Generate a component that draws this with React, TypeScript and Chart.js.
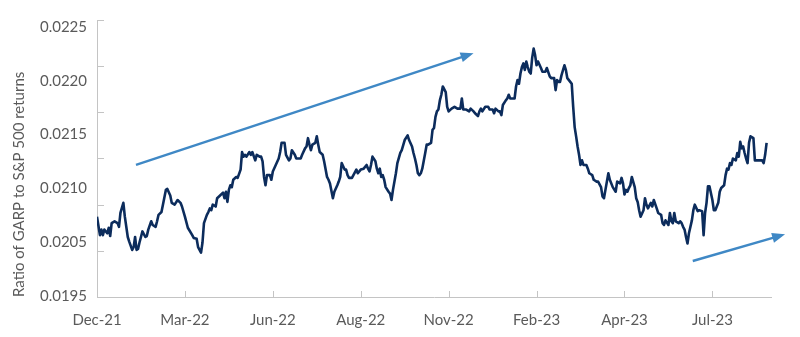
import React, { useEffect, useRef } from 'react';
import { Chart, registerables } from 'chart.js';

Chart.register(...registerables);

// ---- Data ----
const xTickLabels = ['Dec-21', 'Mar-22', 'Jun-22', 'Aug-22', 'Nov-22', 'Feb-23', 'Apr-23', 'Jul-23'];
const xTickStep = 60; // trading days between labelled ticks
const xMaxDay = 460;

const yMin = 0.0195;
const yMax = 0.0225;
const yTickValues = [0.0195, 0.02, 0.0205, 0.021, 0.0215, 0.022, 0.0225];
// printed labels (as they appear on the original picture)
const yTickLabels = ['0.0195', '0.0205', '0.0210', '0.0215', '0.0220', '0.0225'];

const yAxisTitle = 'Ratio of GARP to S&P 500 returns';

// trading-day index
const dayIndex = [
  0, 2, 3, 4, 5, 7, 8, 9, 10, 12, 14, 15, 16, 18, 19, 21, 22, 24, 25, 26, 27, 28, 29, 30, 31, 33, 34, 35, 37, 38,
  40, 41, 42, 44, 45, 47, 48, 50, 51, 53, 55, 57, 58, 60, 62, 65, 66, 68, 69, 71, 72, 73, 75, 76, 77, 78, 79, 81, 82, 84,
  86, 87, 88, 89, 90, 91, 92, 93, 95, 96, 98, 99, 100, 101, 102, 104, 105, 106, 108, 109, 111, 112, 113, 114, 115, 116, 118, 119, 120, 122,
  124, 125, 126, 127, 128, 129, 131, 132, 133, 135, 136, 137, 139, 140, 142, 143, 144, 145, 146, 147, 149, 150, 151, 152, 154, 155, 157, 158, 159, 161,
  162, 164, 165, 166, 167, 169, 170, 171, 172, 174, 175, 177, 178, 180, 182, 184, 185, 186, 187, 188, 190, 191, 192, 193, 194, 195, 196, 197, 199, 200,
  201, 202, 204, 205, 207, 208, 210, 212, 213, 215, 216, 217, 218, 219, 220, 221, 222, 224, 225, 226, 228, 229, 230, 231, 232, 233, 234, 235, 236, 238,
  239, 240, 242, 244, 246, 248, 249, 250, 252, 254, 255, 257, 258, 260, 261, 262, 263, 265, 267, 268, 270, 271, 272, 274, 275, 276, 277, 279, 280, 281,
  282, 284, 285, 286, 287, 288, 289, 290, 291, 292, 293, 294, 295, 296, 297, 298, 299, 300, 301, 303, 304, 306, 307, 309, 310, 312, 313, 314, 315, 316,
  317, 319, 320, 321, 323, 324, 325, 326, 327, 328, 329, 330, 331, 332, 334, 335, 336, 338, 339, 341, 342, 344, 345, 346, 347, 349, 350, 352, 354, 355,
  357, 358, 359, 360, 361, 362, 363, 364, 365, 367, 368, 369, 370, 371, 373, 374, 375, 376, 378, 379, 380, 382, 383, 385, 386, 387, 388, 390, 391, 392,
  393, 394, 395, 397, 398, 399, 400, 401, 402, 403, 404, 406, 407, 408, 410, 411, 413, 414, 415, 416, 417, 418, 420, 421, 422, 424, 425, 426, 428, 429,
  430, 431, 432, 433, 434, 436, 437, 438, 439, 440, 441, 442, 443, 444, 445, 446, 448, 449, 451, 453, 454, 455, 456, 457,
];

// ratio of GARP to S&P 500 returns
const ratio = [
  0.02037, 0.02017, 0.02023, 0.02017, 0.02023, 0.02019, 0.02025, 0.02016, 0.0203, 0.02032, 0.0203, 0.02026, 0.02041, 0.02052, 0.02037, 0.02015, 0.0201, 0.02001, 0.02004, 0.02015, 0.02001, 0.02002, 0.02009, 0.02015, 0.02021, 0.02015, 0.02016, 0.02023, 0.02032, 0.02028,
  0.02026, 0.02032, 0.02039, 0.02042, 0.0205, 0.02066, 0.02067, 0.0206, 0.02052, 0.0205, 0.02055, 0.02052, 0.02048, 0.02037, 0.02025, 0.02017, 0.02014, 0.02013, 0.02004, 0.01998, 0.02009, 0.0203, 0.02039, 0.02042, 0.02046, 0.02044, 0.0205, 0.02048, 0.02057, 0.0206,
  0.02063, 0.02057, 0.02064, 0.02053, 0.02066, 0.02071, 0.02069, 0.02077, 0.0208, 0.02079, 0.02088, 0.02107, 0.02102, 0.02104, 0.02102, 0.02107, 0.02104, 0.02107, 0.02098, 0.02104, 0.02102, 0.02102, 0.02097, 0.0208, 0.02071, 0.02082, 0.02082, 0.02077, 0.02086, 0.02093,
  0.021, 0.02107, 0.02117, 0.02117, 0.02117, 0.02104, 0.02098, 0.021, 0.02109, 0.02104, 0.021, 0.021, 0.021, 0.02104, 0.02111, 0.02113, 0.02122, 0.02115, 0.02109, 0.02115, 0.02117, 0.02124, 0.02115, 0.02107, 0.02104, 0.02097, 0.0208, 0.02077, 0.02073, 0.02057,
  0.02064, 0.02071, 0.02075, 0.0208, 0.02095, 0.02088, 0.02088, 0.02082, 0.02079, 0.02079, 0.02082, 0.02088, 0.02084, 0.02088, 0.02089, 0.02093, 0.02089, 0.02086, 0.02093, 0.02102, 0.02097, 0.02089, 0.02084, 0.02089, 0.0208, 0.02082, 0.02077, 0.02069, 0.02064, 0.02062,
  0.02055, 0.02066, 0.02084, 0.02095, 0.02106, 0.02109, 0.0212, 0.02125, 0.0212, 0.02113, 0.02106, 0.021, 0.02093, 0.02084, 0.02082, 0.02084, 0.02089, 0.02106, 0.02115, 0.02115, 0.02117, 0.02131, 0.02133, 0.02145, 0.02151, 0.02153, 0.02163, 0.02169, 0.02178, 0.02172,
  0.02156, 0.02151, 0.02154, 0.02156, 0.02154, 0.02154, 0.02165, 0.02153, 0.02153, 0.02151, 0.02154, 0.02151, 0.02149, 0.02146, 0.02151, 0.02154, 0.02151, 0.02156, 0.02156, 0.02153, 0.02153, 0.02149, 0.02154, 0.02151, 0.02151, 0.02147, 0.02158, 0.02163, 0.02165, 0.02169,
  0.02165, 0.02165, 0.02165, 0.02178, 0.02185, 0.02181, 0.02192, 0.02199, 0.02203, 0.02196, 0.02205, 0.02199, 0.02194, 0.02192, 0.02209, 0.02219, 0.02212, 0.02201, 0.02205, 0.02198, 0.02194, 0.02194, 0.02198, 0.02189, 0.02187, 0.02187, 0.02174, 0.02185, 0.02183, 0.02183,
  0.0219, 0.02201, 0.02196, 0.02187, 0.02183, 0.02181, 0.02156, 0.02134, 0.02124, 0.02113, 0.02104, 0.02093, 0.02098, 0.02093, 0.02093, 0.02089, 0.02084, 0.02082, 0.02077, 0.02075, 0.02075, 0.02069, 0.02059, 0.02057, 0.02066, 0.02084, 0.02077, 0.02069, 0.02064, 0.02075,
  0.02073, 0.02079, 0.02073, 0.02061, 0.02066, 0.02064, 0.02068, 0.02071, 0.0208, 0.02069, 0.02057, 0.02053, 0.02044, 0.02037, 0.02044, 0.02057, 0.0205, 0.02046, 0.02052, 0.02048, 0.02055, 0.02046, 0.02041, 0.02039, 0.0203, 0.02028, 0.02033, 0.02028, 0.02041, 0.02032,
  0.0203, 0.02041, 0.02032, 0.0203, 0.02032, 0.0203, 0.02026, 0.02023, 0.02015, 0.02008, 0.02019, 0.02033, 0.02044, 0.0205, 0.02043, 0.02044, 0.02043, 0.02017, 0.02041, 0.02052, 0.0207, 0.0207, 0.02055, 0.02044, 0.02044, 0.02052, 0.02064, 0.02068, 0.02071, 0.02082,
  0.02089, 0.02088, 0.02095, 0.02093, 0.021, 0.02098, 0.02106, 0.02102, 0.02118, 0.02111, 0.02113, 0.02106, 0.021, 0.02095, 0.02117, 0.02124, 0.02122, 0.02098, 0.02098, 0.02098, 0.02098, 0.02095, 0.02104, 0.02117,
];

// trend arrows (start/end in trading-day index and ratio units)
const arrowStartDay = [26.6, 406.6];
const arrowStartValue = [0.02093, 0.01989];
const arrowEndDay = [257.0, 469.6];
const arrowEndValue = [0.02214, 0.02018];

// ---- Styles ----
const LINE_COLOR = '#0c2c5c';
const ARROW_COLOR = '#3f88c5';
const AXIS_COLOR = '#c4c4c4';
const TEXT_COLOR = '#5a5a5a';
const FONT_FAMILY = 'Lato, "Open Sans", sans-serif';

const decorPlugin = {
  id: 'decor',
  afterDatasetsDraw(chart: any) {
    const { ctx, chartArea } = chart;
    const x = chart.scales.x;
    const y = chart.scales.y;
    ctx.save();
    // inward tick marks
    ctx.strokeStyle = AXIS_COLOR;
    ctx.lineWidth = 1;
    yTickValues.forEach((v) => {
      const py = Math.round(y.getPixelForValue(v)) + 0.5;
      ctx.beginPath();
      ctx.moveTo(chartArea.left, py);
      ctx.lineTo(chartArea.left + 7, py);
      ctx.stroke();
    });
    x.ticks.forEach((t: any) => {
      const px = Math.round(x.getPixelForValue(t.value)) + 0.5;
      ctx.beginPath();
      ctx.moveTo(px, chartArea.bottom);
      ctx.lineTo(px, chartArea.bottom - 6);
      ctx.stroke();
    });
    // arrows
    ctx.strokeStyle = ARROW_COLOR;
    ctx.fillStyle = ARROW_COLOR;
    ctx.lineWidth = 2.4;
    ctx.lineCap = 'butt';
    for (let i = 0; i < arrowStartDay.length; i++) {
      const sx = x.getPixelForValue(arrowStartDay[i]);
      const sy = y.getPixelForValue(arrowStartValue[i]);
      const ex = x.getPixelForValue(arrowEndDay[i]);
      const ey = y.getPixelForValue(arrowEndValue[i]);
      const a = Math.atan2(ey - sy, ex - sx);
      const headLen = 13;
      const headHalf = 5;
      const bx = ex - headLen * Math.cos(a);
      const by = ey - headLen * Math.sin(a);
      ctx.beginPath();
      ctx.moveTo(sx, sy);
      ctx.lineTo(bx + 2 * Math.cos(a), by + 2 * Math.sin(a));
      ctx.stroke();
      ctx.beginPath();
      ctx.moveTo(ex, ey);
      ctx.lineTo(bx - headHalf * Math.sin(a), by + headHalf * Math.cos(a));
      ctx.lineTo(bx + headHalf * Math.sin(a), by - headHalf * Math.cos(a));
      ctx.closePath();
      ctx.fill();
    }
    ctx.restore();
  },
};

export default function App() {
  const canvasRef = useRef<HTMLCanvasElement | null>(null);

  useEffect(() => {
    if (!canvasRef.current) return;
    const points = dayIndex.map((d, i) => ({ x: d, y: ratio[i] }));
    const tickFont = { family: FONT_FAMILY, size: 15 };
    const chart = new Chart(canvasRef.current, {
      type: 'line',
      data: {
        datasets: [
          {
            label: 'GARP / S&P 500',
            data: points,
            borderColor: LINE_COLOR,
            borderWidth: 2.6,
            pointRadius: 0,
            tension: 0,
            fill: false,
            borderJoinStyle: 'round',
            yAxisID: 'y',
            xAxisID: 'x',
          },
        ],
      },
      options: {
        animation: false,
        responsive: false,
        maintainAspectRatio: false,
        layout: { padding: { left: 0, top: 20, right: 29, bottom: 0 } },
        plugins: {
          legend: { display: false },
          tooltip: { enabled: false },
        },
        scales: {
          x: {
            type: 'linear',
            min: 0,
            max: xMaxDay,
            afterBuildTicks: (s: any) => {
              s.ticks = xTickLabels.map((_, i) => ({ value: i * xTickStep }));
            },
            ticks: {
              callback: (_v: any, i: number) => xTickLabels[i],
              color: TEXT_COLOR,
              font: tickFont,
              padding: 14,
              maxRotation: 0,
              autoSkip: false,
            },
            grid: { display: false, drawTicks: false },
            border: { display: true, color: AXIS_COLOR, width: 1 },
            afterFit: (s: any) => {
              s.height = 40;
            },
          },
          y: {
            type: 'linear',
            position: 'left',
            weight: 0,
            min: yMin,
            max: yMax,
            afterBuildTicks: (s: any) => {
              s.ticks = yTickValues.map((v) => ({ value: v }));
            },
            ticks: { display: false },
            grid: { display: false, drawTicks: false },
            border: { display: true, color: AXIS_COLOR, width: 1 },
            afterFit: (s: any) => {
              s.width = 0;
            },
          },
          yl: {
            type: 'linear',
            position: 'left',
            weight: 1,
            min: -0.0186,
            max: 5.13,
            afterBuildTicks: (s: any) => {
              s.ticks = yTickLabels.map((_, i) => ({ value: i }));
            },
            ticks: {
              callback: (_v: any, i: number) => yTickLabels[i],
              color: TEXT_COLOR,
              font: tickFont,
              padding: 10,
              autoSkip: false,
            },
            grid: { display: false, drawTicks: false },
            border: { display: false },
            title: {
              display: true,
              text: yAxisTitle,
              color: TEXT_COLOR,
              font: { family: FONT_FAMILY, size: 15 },
              align: 'start',
              padding: { top: 10, bottom: 0 },
            },
            afterFit: (s: any) => {
              s.width = 97;
            },
          },
        },
      } as any,
      plugins: [decorPlugin],
    });
    return () => chart.destroy();
  }, []);

  return (
    <div style={{ position: 'fixed', left: 0, top: 0, width: 800, height: 337, background: '#ffffff' }}>
      <canvas ref={canvasRef} width={800} height={337} style={{ width: 800, height: 337 }} />
    </div>
  );
}
